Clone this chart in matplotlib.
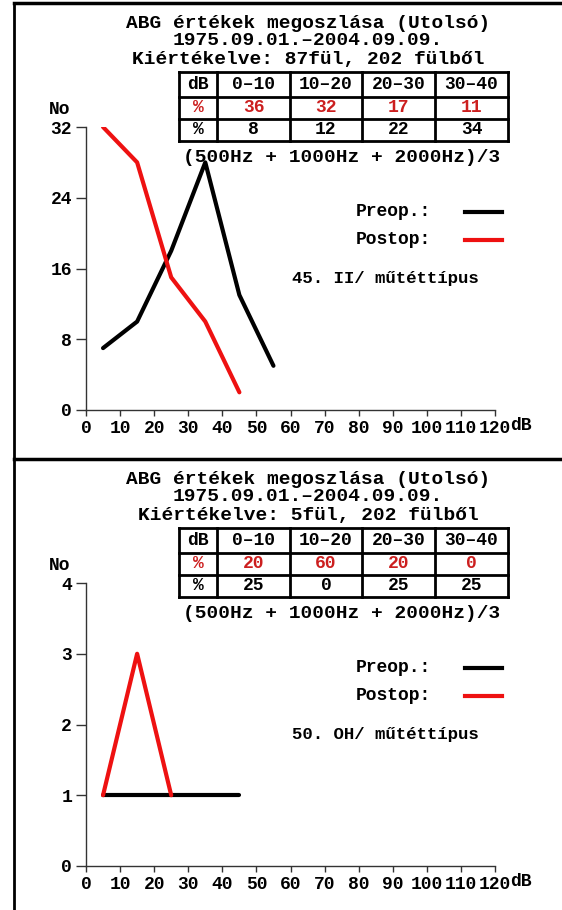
import matplotlib
matplotlib.use('Agg')
import matplotlib.pyplot as plt

plt.rcParams['font.family'] = ['Liberation Mono', 'DejaVu Sans Mono']
plt.rcParams['font.weight'] = 'bold'

W, H = 562, 910
PANEL_SHIFT = 456  # vertical distance between the two panels, px

# Felső panel: 45. II/ műtéttípus
top_title = 'Kiértékelve: 87fül, 202 fülből'
top_preop_x = [5, 15, 25, 35, 45, 55]
top_preop = [7, 10, 18, 28, 13, 5]
top_postop_x = [5, 15, 25, 35, 45]
top_postop = [32, 28, 15, 10, 2]
top_pct_post = ['36', '32', '17', '11']
top_pct_pre = ['8', '12', '22', '34']
top_yticks = [0, 8, 16, 24, 32]
top_label = '45. II/ műtéttípus'

# Alsó panel: 50. OH/ műtéttípus
bot_title = 'Kiértékelve: 5fül, 202 fülből'
bot_preop_x = [5, 25, 35, 45]
bot_preop = [1, 1, 1, 1]
bot_postop_x = [5, 15, 25]
bot_postop = [1, 3, 1]
bot_pct_post = ['20', '60', '20', '0']
bot_pct_pre = ['25', '0', '25', '25']
bot_yticks = [0, 1, 2, 3, 4]
bot_label = '50. OH/ műtéttípus'

ranges = ['dB', '0–10', '10–20', '20–30', '30–40']
xticks = list(range(0, 121, 10))

RED_LINE = '#ee1111'
RED_TEXT = '#cc1f1f'
FS = 14

fig = plt.figure(figsize=(W / 100, H / 100), dpi=100)

# átlátszó réteg pixel-koordinátákkal a szövegeknek és a táblázatnak
ov = fig.add_axes([0, 0, 1, 1])
ov.set_xlim(0, W)
ov.set_ylim(H, 0)
ov.axis('off')
ov.patch.set_visible(False)

# keret
ov.plot([14, 14], [3, H], color='black', lw=2)
ov.plot([14, W], [3, 3], color='black', lw=2.5)
ov.plot([14, W], [459, 459], color='black', lw=2.5)


def draw_panel(off, title3, px, py, qx, qy, pct_post, pct_pre, yticks, label):
    # címek
    ov.text(308, 28 + off, 'ABG értékek megoszlása (Utolsó)', ha='center', va='baseline', fontsize=FS)
    ov.text(308, 45 + off, '1975.09.01.–2004.09.09.', ha='center', va='baseline', fontsize=FS)
    ov.text(308, 64 + off, title3, ha='center', va='baseline', fontsize=FS)

    # táblázat
    cols = [179, 217, 290, 362, 435, 508]
    rows = [72, 97, 119, 141]
    for x in cols:
        ov.plot([x, x], [rows[0] + off, rows[-1] + off], color='black', lw=2, solid_capstyle='projecting')
    for y in rows:
        ov.plot([cols[0], cols[-1]], [y + off, y + off], color='black', lw=2, solid_capstyle='projecting')
    for i in range(5):
        cx = (cols[i] + cols[i + 1]) / 2
        ov.text(cx, (rows[0] + rows[1]) / 2 + off, ranges[i], ha='center', va='center', fontsize=FS - 1)
        if i == 0:
            post, pre = '%', '%'
        else:
            post, pre = pct_post[i - 1], pct_pre[i - 1]
        ov.text(cx, (rows[1] + rows[2]) / 2 + off, post, ha='center', va='center',
                fontsize=FS - 1, color=RED_TEXT)
        ov.text(cx, (rows[2] + rows[3]) / 2 + off, pre, ha='center', va='center', fontsize=FS - 1)

    ov.text(183, 157 + off, '(500Hz + 1000Hz + 2000Hz)/3', ha='left', va='center', fontsize=FS)
    ov.text(60, 109 + off, 'No', ha='center', va='center', fontsize=FS - 1)

    # jelmagyarázat
    ov.text(356, 212 + off, 'Preop.:', ha='left', va='center', fontsize=FS - 1)
    ov.text(356, 240 + off, 'Postop:', ha='left', va='center', fontsize=FS - 1)
    ov.plot([465, 502], [212 + off, 212 + off], color='black', lw=3)
    ov.plot([465, 502], [240 + off, 240 + off], color=RED_LINE, lw=3)
    ov.text(292, 279 + off, label, ha='left', va='center', fontsize=FS - 1.5)

    # diagram
    ax = fig.add_axes([86 / W, 1 - (410 + off) / H, 409 / W, 283 / H])
    ax.patch.set_visible(False)
    ax.plot(px, py, color='black', lw=3, solid_capstyle='round', solid_joinstyle='round')
    ax.plot(qx, qy, color=RED_LINE, lw=3, solid_capstyle='round', solid_joinstyle='round')
    ax.set_xlim(0, 120)
    ax.set_ylim(0, yticks[-1])
    ax.set_xticks(xticks)
    ax.set_yticks(yticks)
    ax.spines['top'].set_visible(False)
    ax.spines['right'].set_visible(False)
    for s in ('left', 'bottom'):
        ax.spines[s].set_color('#333333')
        ax.spines[s].set_linewidth(1)
    ax.tick_params(axis='x', direction='out', length=4, width=1, color='#333333', pad=3, labelsize=FS - 1)
    ax.tick_params(axis='y', direction='out', length=7, width=1, color='#333333', pad=3, labelsize=FS - 1)
    ov.text(521, 426 + off, 'dB', ha='center', va='center', fontsize=FS - 1)


draw_panel(0, top_title, top_preop_x, top_preop, top_postop_x, top_postop,
           top_pct_post, top_pct_pre, top_yticks, top_label)
draw_panel(PANEL_SHIFT, bot_title, bot_preop_x, bot_preop, bot_postop_x, bot_postop,
           bot_pct_post, bot_pct_pre, bot_yticks, bot_label)

plt.savefig('out.png', dpi=100)
plt.close()
